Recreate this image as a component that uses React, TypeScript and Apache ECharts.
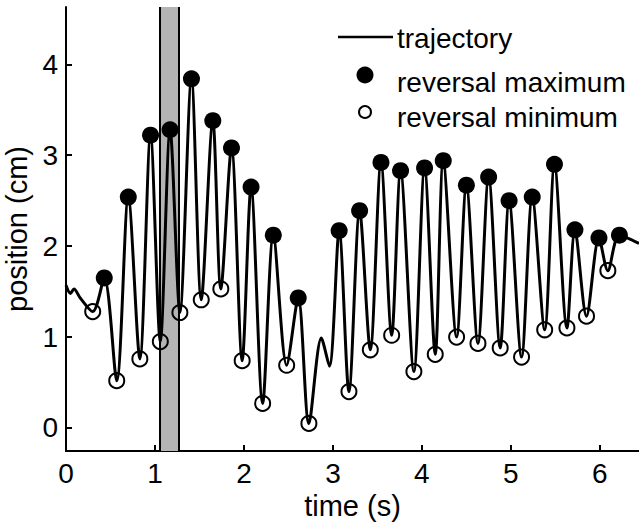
import React, { useEffect, useRef } from "react";
import * as echarts from "echarts";

// Reversal maxima (time s, position cm)
const maxTimes = [0.43, 0.70, 0.95, 1.17, 1.41, 1.65, 1.86, 2.08, 2.33, 2.61, 3.07, 3.30, 3.54, 3.76, 4.03, 4.24, 4.50, 4.75, 4.98, 5.24, 5.49, 5.72, 5.99, 6.22];
const maxValues = [1.65, 2.54, 3.22, 3.28, 3.84, 3.38, 3.08, 2.65, 2.12, 1.43, 2.17, 2.39, 2.92, 2.83, 2.86, 2.94, 2.67, 2.76, 2.50, 2.54, 2.90, 2.18, 2.09, 2.12];

// Reversal minima
const minTimes = [0.30, 0.57, 0.83, 1.06, 1.28, 1.52, 1.74, 1.98, 2.21, 2.48, 2.73, 3.18, 3.42, 3.66, 3.91, 4.15, 4.39, 4.63, 4.88, 5.12, 5.38, 5.63, 5.85, 6.09];
const minValues = [1.28, 0.52, 0.76, 0.95, 1.27, 1.41, 1.53, 0.74, 0.27, 0.69, 0.05, 0.40, 0.86, 1.02, 0.62, 0.81, 1.00, 0.93, 0.88, 0.78, 1.08, 1.10, 1.23, 1.73];

// Other trajectory points (start wiggle, mid wiggle, end)
const extraTimes = [0.0, 0.05, 0.09, 0.16, 2.87, 2.96, 6.44];
const extraValues = [1.57, 1.48, 1.53, 1.43, 0.99, 0.68, 2.03];

// Highlighted window (shaded band)
const bandStart = 1.05;
const bandEnd = 1.27;

const xTicks = [0, 1, 2, 3, 4, 5, 6];
const yTicks = [0, 1, 2, 3, 4];

const legendLabels = ["trajectory", "reversal maximum", "reversal minimum"];

const FONT = "Liberation Sans, Arial, Helvetica, sans-serif";

export default function App() {
  const ref = useRef<HTMLDivElement>(null);

  useEffect(() => {
    if (!ref.current) return;
    const chart = echarts.init(ref.current, undefined, { renderer: "svg" });

    const maxData = maxTimes.map((t, i) => [t, maxValues[i]]);
    const minData = minTimes.map((t, i) => [t, minValues[i]]);
    const extraData = extraTimes.map((t, i) => [t, extraValues[i]]);
    const traj = [...maxData, ...minData, ...extraData].sort((a, b) => a[0] - b[0]);

    const legendFont = `28px ${FONT}`;
    const textX = 397;

    chart.setOption({
      animation: false,
      backgroundColor: "#ffffff",
      textStyle: { fontFamily: FONT, color: "#000" },
      grid: { left: 66, right: 0, top: 7, bottom: 76, containLabel: false, outerBoundsMode: "none" },
      graphic: [
        {
          type: "line",
          shape: { x1: 338, y1: 37, x2: 393, y2: 37 },
          style: { stroke: "#000", lineWidth: 2.5 },
          z: 10,
        },
        {
          type: "text",
          x: textX,
          y: 38.5,
          style: { text: legendLabels[0], font: legendFont, fill: "#000", verticalAlign: "middle", align: "left" },
          z: 10,
        },
        {
          type: "circle",
          shape: { cx: 365, cy: 75, r: 8.5 },
          style: { fill: "#000" },
          z: 10,
        },
        {
          type: "text",
          x: textX,
          y: 82,
          style: { text: legendLabels[1], font: legendFont, fill: "#000", verticalAlign: "middle", align: "left" },
          z: 10,
        },
        {
          type: "circle",
          shape: { cx: 365, cy: 112, r: 6 },
          style: { fill: "none", stroke: "#000", lineWidth: 2 },
          z: 10,
        },
        {
          type: "text",
          x: textX,
          y: 117,
          style: { text: legendLabels[2], font: legendFont, fill: "#000", verticalAlign: "middle", align: "left" },
          z: 10,
        },
      ],
      xAxis: {
        type: "value",
        min: 0,
        max: 6.44,
        name: "time (s)",
        nameLocation: "middle",
        nameGap: 33,
        nameTextStyle: { fontSize: 29, color: "#000", fontFamily: FONT },
        axisLine: { show: true, onZero: false, lineStyle: { color: "#000", width: 2 } },
        axisTick: { show: true, inside: true, length: 6, customValues: xTicks, lineStyle: { color: "#000", width: 2 } },
        axisLabel: { customValues: xTicks, fontSize: 28, color: "#000", margin: 8, fontFamily: FONT },
        splitLine: { show: false },
      },
      yAxis: {
        type: "value",
        min: -0.253,
        max: 4.63,
        name: "position (cm)",
        nameLocation: "middle",
        nameGap: 27,
        nameTextStyle: { fontSize: 29, color: "#000", fontFamily: FONT },
        axisLine: { show: true, onZero: false, lineStyle: { color: "#000", width: 2 } },
        axisTick: { show: true, inside: true, length: 6, customValues: yTicks, lineStyle: { color: "#000", width: 2 } },
        axisLabel: { customValues: yTicks, fontSize: 28, color: "#000", margin: 8, fontFamily: FONT },
        splitLine: { show: false },
      },
      series: [
        {
          name: "band",
          type: "line",
          data: [],
          z: 0,
          silent: true,
          markArea: {
            silent: true,
            itemStyle: { color: "#b4b4b4" },
            data: [[{ xAxis: bandStart }, { xAxis: bandEnd }]],
          },
          markLine: {
            silent: true,
            symbol: "none",
            label: { show: false },
            lineStyle: { color: "#000", width: 2, type: "solid" },
            data: [{ xAxis: bandStart }, { xAxis: bandEnd }],
          },
        },
        {
          name: "trajectory",
          type: "line",
          data: traj,
          smooth: 0.3,
          symbol: "none",
          z: 2,
          lineStyle: { color: "#000", width: 3 },
          itemStyle: { color: "#000" },
        },
        {
          name: "reversal maximum",
          type: "scatter",
          data: maxData,
          symbol: "circle",
          symbolSize: 17,
          z: 3,
          itemStyle: { color: "#000", opacity: 1 },
        },
        {
          name: "reversal minimum",
          type: "scatter",
          data: minData,
          symbol: "circle",
          symbolSize: 15,
          z: 3,
          itemStyle: { color: "rgba(0,0,0,0)", borderColor: "#000", borderWidth: 2, opacity: 1 },
        },
      ],
    });

    return () => chart.dispose();
  }, []);

  return (
    <div
      ref={ref}
      style={{ position: "fixed", left: 0, top: 0, width: 639, height: 527, background: "#fff" }}
    />
  );
}
